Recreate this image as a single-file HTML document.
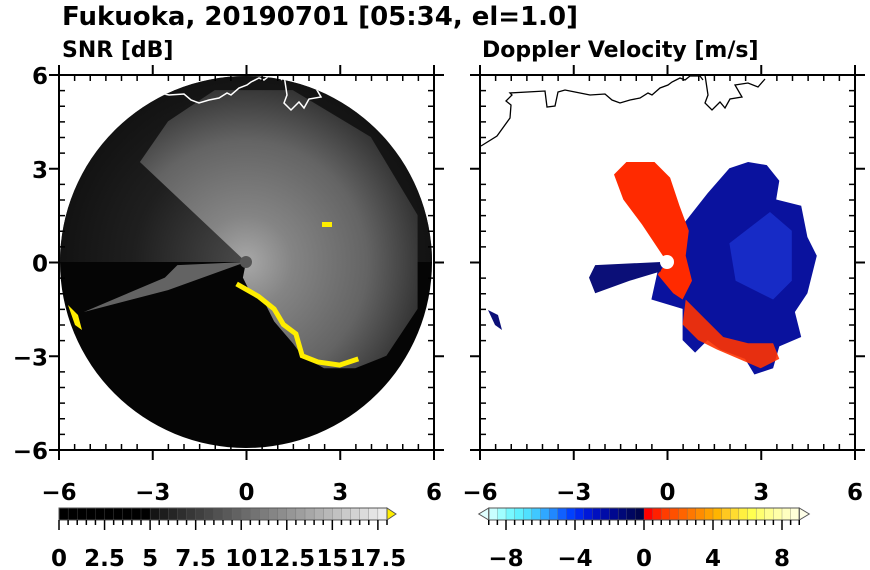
<!DOCTYPE html>
<html><head><meta charset="utf-8"><style>
html,body{margin:0;padding:0;background:#fff;}
svg{display:block;font-family:"DejaVu Sans","Liberation Sans",sans-serif;font-weight:bold;}
</style></head><body>
<svg id="s" width="870" height="570" viewBox="0 0 870 570" xmlns="http://www.w3.org/2000/svg">
<defs>
<clipPath id="circ"><circle cx="246" cy="262" r="186"/></clipPath>
<radialGradient id="gr" cx="246" cy="262" r="186" gradientUnits="userSpaceOnUse">
<stop offset="0" stop-color="#a8a8a8"/><stop offset="0.25" stop-color="#848484"/><stop offset="0.65" stop-color="#646464"/><stop offset="1" stop-color="#2c2c2c"/></radialGradient>
<radialGradient id="gr2" cx="246" cy="262" r="186" gradientUnits="userSpaceOnUse">
<stop offset="0" stop-color="#686868"/><stop offset="0.6" stop-color="#2a2a2a"/><stop offset="1" stop-color="#181818"/></radialGradient>
</defs>
<text x="62" y="25" font-size="26">Fukuoka, 20190701 [05:34, el=1.0]</text>
<text x="62" y="57" font-size="22">SNR [dB]</text>
<text x="482" y="57" font-size="22">Doppler Velocity [m/s]</text>

<g>
<circle cx="246" cy="262" r="186" fill="#050505"/>
<g clip-path="url(#circ)">
<path d="M246,262 L60,262 L60,70 L440,70 L440,262 Z" fill="url(#gr2)" opacity="0.7"/>
<path id="bright" fill="url(#gr)"/>
<path id="wbeam" fill="#7a7a7a" opacity="0.8"/>
<path id="yel" fill="none" stroke="#ffee00" stroke-width="5"/>
<path id="coastL" fill="none" stroke="#fff" stroke-width="1.5"/>
</g>
<path d="M68,305 L75,325 L82,330 L78,315 Z" fill="#ffee00"/>
<circle cx="246" cy="262" r="6" fill="#555"/>
<rect x="322" y="222" width="10" height="5" fill="#ffee00"/>
</g>

<g>
<path id="blue" fill="#0a129e"/>
<path id="blue2" fill="#1a32d0" opacity="0.8"/>
<path id="red" fill="#ff2a00"/>
<path id="red2" fill="#ff3300" opacity="0.9"/>
<path id="wbeamR" fill="#0b0f78"/>
<path d="M488,310 L495,325 L502,330 L498,315 Z" fill="#0b0f78"/>
<circle cx="667" cy="262" r="7" fill="#fff"/>
<path id="coastR" fill="none" stroke="#000" stroke-width="1.3"/>
</g>
<g id="axes"></g>
<g id="cbars"></g>
</svg>
<script>
const snrTicks=[0,2.5,5,7.5,10,12.5,15,17.5];
const velTicks=[-8,-4,0,4,8];
const axisTicks=[-6,-3,0,3,6];
const velColors=["#c8ffff","#a0ffff","#78f8ff","#60f0ff","#50e0ff","#40c8ff","#30a8ff","#2088ff","#1060ff","#0040ff","#0028f0","#0018d8","#0010c0","#000ca8","#000890","#000878","#000660","#00044c","#ff0000","#ff2000","#ff3c00","#ff5000","#ff6400","#ff7800","#ff8c00","#ffa000","#ffb400","#ffc820","#ffdc30","#fff040","#ffff50","#ffff70","#ffff90","#ffffa8","#ffffc0","#ffffd8"];
const ns="http://www.w3.org/2000/svg";
function mk(p,t,a){const e=document.createElementNS(ns,t);for(const k in a)e.setAttribute(k,a[k]);p.appendChild(e);return e;}
const X0={L:246,R:667},S=31.2,CY=262,SY=31.25;
function P(panel,pts){return "M"+pts.map(p=>(X0[panel]+p[0]*S).toFixed(1)+","+(CY-p[1]*SY).toFixed(1)).join(" L")+" Z";}
function L(panel,pts){return "M"+pts.map(p=>(X0[panel]+p[0]*S).toFixed(1)+","+(CY-p[1]*SY).toFixed(1)).join(" L");}
const bright=[[0,0],[-3.4,3.2],[-2.5,4.5],[-1,5.5],[1.5,5.5],[4,4],[5.5,1.5],[5.5,-1.5],[4.5,-3],[3.5,-3.4],[2.5,-3.4],[1.8,-3],[1.5,-2.6],[0.9,-1.9],[0.6,-1.3],[0.1,-0.9],[-0.1,-0.5]];
document.getElementById('bright').setAttribute('d',P('L',bright));
document.getElementById('wbeam').setAttribute('d',P('L',[[0,0],[-2.2,-0.1],[-2.6,-0.5],[-5.2,-1.6],[-2.5,-0.9]]));
document.getElementById('yel').setAttribute('d',L('L',[[-0.3,-0.7],[0.4,-1.1],[0.9,-1.5],[1.2,-2],[1.6,-2.3],[1.8,-3],[2.3,-3.2],[3,-3.3],[3.6,-3.1]]));
const blue=[[0.2,0.8],[1.3,2.2],[2,3],[2.6,3.2],[3.2,3.1],[3.6,2.6],[3.5,2],[4.3,1.8],[4.5,0.8],[4.8,0.2],[4.5,-1],[4.1,-1.6],[4.3,-2.4],[3.6,-2.7],[3.4,-3.4],[2.8,-3.6],[2.5,-3.1],[1.7,-2.8],[1.3,-2.5],[0.9,-2.9],[0.5,-2.5],[0.5,-1.5],[-0.5,-1.2],[-0.3,-0.3]];
document.getElementById('blue').setAttribute('d',P('R',blue));
document.getElementById('blue2').setAttribute('d',P('R',[[2,0.6],[3.3,1.6],[4,1],[4,-0.6],[3.4,-1.2],[2.2,-0.6]]));
const red=[[0,0],[-0.8,1.2],[-1.4,2],[-1.7,2.8],[-1.3,3.2],[-0.4,3.2],[0.1,2.7],[0.4,1.8],[0.7,1],[0.6,0.2],[0.8,-0.6],[0.5,-1.2],[0.2,-1],[-0.3,-0.4]];
document.getElementById('red').setAttribute('d',P('R',red));
document.getElementById('red2').setAttribute('d',P('R',[[0.6,-1.2],[1.2,-1.8],[1.8,-2.4],[2.6,-2.6],[3.4,-2.6],[3.6,-3.1],[3,-3.4],[2.3,-3.1],[1.6,-2.8],[1,-2.5],[0.5,-2]]));
document.getElementById('wbeamR').setAttribute('d',P('R',[[-0.2,0],[-2.3,-0.1],[-2.5,-0.5],[-2.3,-1],[-1.2,-0.6],[-0.2,-0.3]]));
const coast=[[1,71],[17,61],[30,43],[31,30],[26,26],[32,20],[30,18],[65,16],[67,32],[75,31],[78,17],[85,15],[95,17],[110,20],[125,19],[132,25],[140,28],[150,25],[160,23],[168,18],[172,20],[180,13],[188,10],[192,7],[200,3],[205,5],[210,1],[220,1],[223,5]];
const boxes=[[225,0],[228,20],[225,28],[232,35],[240,27],[245,33],[250,24],[262,22],[255,10],[268,8],[278,12],[285,4]];
function cp(ox){return "M"+coast.map(p=>(p[0]+ox)+","+(p[1]+75)).join(" L")+" M"+boxes.map(p=>(p[0]+ox)+","+(p[1]+75)).join(" L");}
document.getElementById('coastL').setAttribute('d',cp(59));
document.getElementById('coastR').setAttribute('d',cp(480));
const ax=document.getElementById('axes');
[['L',59],['R',480]].forEach(([pn,x0])=>{
 const x1=x0+375,y0=75,y1=450;
 const fr=mk(ax,'rect',{x:x0,y:y0,width:375,height:375,fill:'none',stroke:'#000','stroke-width':2});
 
 
 for(let v=-6;v<=6.001;v+=0.5){
  const px=x0+(v+6)*375/12, py=y1-(v+6)*375/12;
  const major=Math.abs(v%3)<0.01;
  if(major){
   mk(ax,'line',{x1:px,y1:y1,x2:px,y2:y1+10,stroke:'#000','stroke-width':2});
   mk(ax,'line',{x1:px,y1:y0,x2:px,y2:y0-10,stroke:'#000','stroke-width':2});
   mk(ax,'line',{x1:x0,y1:py,x2:x0-10,y2:py,stroke:'#000','stroke-width':2});
   mk(ax,'line',{x1:x1,y1:py,x2:x1+10,y2:py,stroke:'#000','stroke-width':2});
  }else{
   mk(ax,'line',{x1:px,y1:y1,x2:px,y2:y1-6,stroke:'#000','stroke-width':1.5});
   mk(ax,'line',{x1:px,y1:y0,x2:px,y2:y0+6,stroke:'#000','stroke-width':1.5});
   mk(ax,'line',{x1:x0,y1:py,x2:x0+6,y2:py,stroke:'#000','stroke-width':1.5});
   mk(ax,'line',{x1:x1,y1:py,x2:x1-6,y2:py,stroke:'#000','stroke-width':1.5});
  }
 }
 axisTicks.forEach(v=>{
  const px=x0+(v+6)*375/12, py=y1-(v+6)*375/12;
  const t=mk(ax,'text',{x:px,y:500,'font-size':23,'text-anchor':'middle'});
  t.textContent=String(v).replace('-','\u2212');
  
  
  if(pn==='L'){
   const u=mk(ax,'text',{x:48,y:py+9,'font-size':23,'text-anchor':'end'});
   u.textContent=String(v).replace('-','\u2212');
   
   
  }
 });
});
const cb=document.getElementById('cbars');
const y0=508,h=12;
const sx=v=>59+v*(387-59)/18;
for(let i=0;i<36;i++){
 const v=i*0.5; let g=v<5?0:Math.round(20+(v-5)/13*225);
 mk(cb,'rect',{x:sx(v),y:y0,width:sx(0.5)-sx(0)+0.3,height:h,fill:`rgb(${g},${g},${g})`,stroke:'#666','stroke-width':0.3});
}
mk(cb,'path',{d:`M387,${y0} L396,${y0+h/2} L387,${y0+h} Z`,fill:'#ffee00',stroke:'#555','stroke-width':1});
const snrbar=mk(cb,'rect',{x:59,y:y0,width:328,height:h,fill:'none',stroke:'#555','stroke-width':1});


for(let i=0;i<=36;i++){const x=sx(i*0.5);mk(cb,'line',{x1:x,y1:y0+h,x2:x,y2:y0+h+(i%5===0?10:5),stroke:'#000','stroke-width':1.5});}
snrTicks.forEach(v=>{const t=mk(cb,'text',{x:sx(v),y:566,'font-size':23,'text-anchor':'middle'});t.textContent=String(v);
 
 });
const vx=v=>644+v*17.25;
const n=velColors.length, w=(vx(9)-vx(-9))/n;
velColors.forEach((c,i)=>mk(cb,'rect',{x:vx(-9)+i*w,y:y0,width:w+0.3,height:h,fill:c,stroke:'#666','stroke-width':0.3}));
mk(cb,'path',{d:`M${vx(-9)},${y0} L${vx(-9)-10},${y0+h/2} L${vx(-9)},${y0+h} Z`,fill:'#e0ffff',stroke:'#555','stroke-width':1});
mk(cb,'path',{d:`M${vx(9)},${y0} L${vx(9)+10},${y0+h/2} L${vx(9)},${y0+h} Z`,fill:'#ffffe8',stroke:'#555','stroke-width':1});
const vbar=mk(cb,'rect',{x:vx(-9),y:y0,width:vx(9)-vx(-9),height:h,fill:'none',stroke:'#555','stroke-width':1});


for(let i=0;i<=n;i++){const v=-9+i*18/n;const x=vx(-9)+i*w;const maj=Math.abs(Math.round(v)-v)<0.01&&Math.round(v)%4===0;
 mk(cb,'line',{x1:x,y1:y0+h,x2:x,y2:y0+h+(maj?10:5),stroke:'#000','stroke-width':1.5});}
velTicks.forEach(v=>{const t=mk(cb,'text',{x:vx(v),y:566,'font-size':23,'text-anchor':'middle'});t.textContent=String(v).replace('-','\u2212');
 
 });
</script>
</body></html>
